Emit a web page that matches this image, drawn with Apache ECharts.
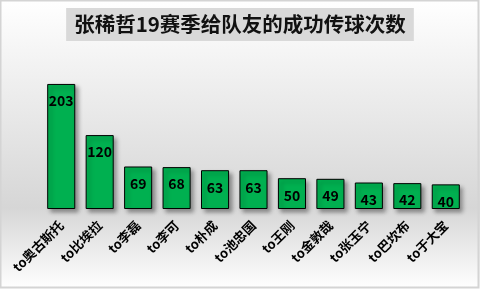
<!DOCTYPE html>
<html>
<head>
<meta charset="utf-8">
<script src="https://cdn.jsdelivr.net/npm/echarts@6/dist/echarts.min.js"></script>
<style>
html,body{margin:0;padding:0;background:#fff;}
#c{width:480px;height:289px;}
</style>
</head>
<body>
<div id="c"></div>
<script>
var titleText = '张稀哲19赛季给队友的成功传球次数';
var categories = ['to奥古斯托','to比埃拉','to李磊','to李可','to朴成','to池忠国','to王刚','to金敦哉','to张玉宁','to巴坎布','to于大宝'];
var passes = [203,120,69,68,63,63,50,49,43,42,40];

var chart = echarts.init(document.getElementById('c'), null, {renderer:'canvas'});
var font = '"Noto Sans CJK SC", "Microsoft YaHei", sans-serif';
chart.setOption({
  animation:false,
  backgroundColor:{
    type:'linear', x:0, y:0, x2:0, y2:1,
    colorStops:[
      {offset:0, color:'#ffffff'},
      {offset:0.72, color:'#d6d6d6'},
      {offset:1, color:'#ffffff'}
    ]
  },
  graphic:[{
    type:'rect', shape:{x:0.5, y:0.5, width:478, height:287},
    style:{fill:null, stroke:'#d4d4d4', lineWidth:2}, silent:true
  }],
  title:{
    text:titleText, left:'center', top:8,
    backgroundColor:'#d9d9d9', padding:[5,8],
    textStyle:{fontFamily:font, fontSize:20.5, fontWeight:'bold', color:'#111', lineHeight:23}
  },
  grid:{left:42, right:15, top:55, bottom:80, containLabel:false},
  xAxis:{
    type:'category', data:categories,
    axisLine:{show:false}, axisTick:{show:false}, splitLine:{show:false},
    axisLabel:{rotate:45, interval:0, margin:14, fontFamily:font, fontSize:13, fontWeight:'bold', color:'#000'}
  },
  yAxis:{
    type:'value', min:0, max:250, show:false, splitLine:{show:false}
  },
  series:[{
    type:'bar', data:passes, barCategoryGap:'27%',
    itemStyle:{color:'#00B050', borderColor:'#000', borderWidth:1,
      shadowColor:'rgba(0,0,0,0.35)', shadowBlur:4, shadowOffsetX:3, shadowOffsetY:3},
    label:{show:true, position:'insideTop', distance:10, fontFamily:font, fontSize:14, fontWeight:'bold', color:'#000'}
  }]
});
</script>
</body>
</html>
